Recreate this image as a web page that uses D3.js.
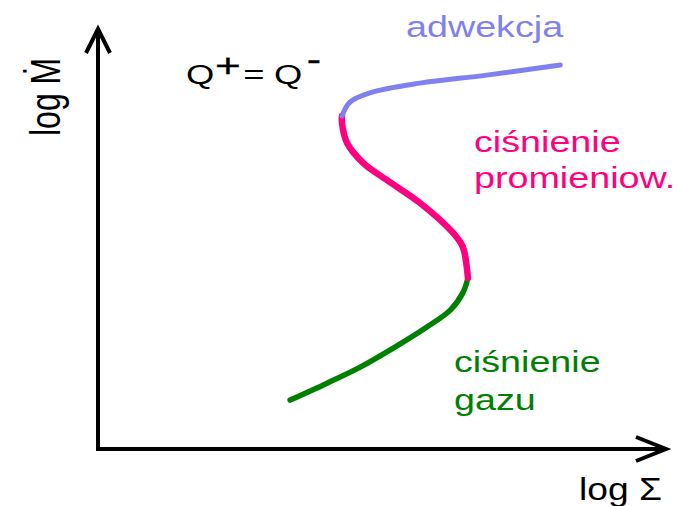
<!DOCTYPE html>
<html>
<head>
<meta charset="utf-8">
<script src="https://cdn.jsdelivr.net/npm/d3@7"></script>
<style>
  html, body { margin: 0; padding: 0; background: #fff; }
  svg { display: block; }
  text { font-family: "Liberation Sans", Arial, sans-serif; }
</style>
</head>
<body>
<script>
// S-curve of thermal equilibrium (Q+ = Q-) in the log Sigma / log Mdot plane,
// split into three branches: gas pressure, radiation pressure, advection.
const gasSigma = [3.37, 4.02, 4.60, 5.18, 5.77, 6.18, 6.40, 6.49];
const gasMdot  = [1.16, 1.56, 1.94, 2.39, 2.89, 3.29, 3.70, 4.05];

const radSigma = [6.49, 6.47, 6.40, 6.23, 5.65, 5.07, 4.65, 4.37, 4.28, 4.28];
const radMdot  = [4.05, 4.31, 4.79, 5.12, 5.83, 6.37, 6.78, 7.25, 7.73, 7.89];

const advSigma = [4.28, 4.42, 4.77, 5.65, 6.82, 8.11];
const advMdot  = [7.89, 8.22, 8.44, 8.67, 8.86, 9.10];

const branchNames = ["ciśnienie gazu", "ciśnienie promieniow.", "adwekcja"];
const branchColors = ["#008000", "#ff0080", "#8080f0"];

const W = 679, H = 506;
const svg = d3.select("body").append("svg").attr("width", W).attr("height", H);

const x = d3.scaleLinear().domain([0, 10]).range([98, 668]);
const y = d3.scaleLinear().domain([0, 10]).range([449, 27]);

// axes drawn as arrows
const axisG = svg.append("g")
  .attr("stroke", "#000").attr("stroke-width", 4).attr("fill", "none")
  .attr("stroke-linecap", "butt").attr("stroke-linejoin", "miter");

axisG.append("line")
  .attr("x1", x(0)).attr("y1", y(0) + 2).attr("x2", x(0)).attr("y2", y(10) + 2);
axisG.append("path")
  .attr("d", `M${x(0) - 12},${y(10) + 26} L${x(0)},${y(10) + 2} L${x(0) + 12},${y(10) + 26}`);

axisG.append("line")
  .attr("x1", x(0) - 2).attr("y1", y(0)).attr("x2", x(10) - 2).attr("y2", y(0));
axisG.append("path")
  .attr("d", `M${x(10) - 32},${y(0) - 12} L${x(10) - 2},${y(0)} L${x(10) - 32},${y(0) + 12}`);

// curve branches
const line = d3.line()
  .x(d => x(d[0])).y(d => y(d[1]))
  .curve(d3.curveCatmullRom.alpha(0.5));

const branches = [
  { pts: d3.zip(gasSigma, gasMdot), width: 5.5 },
  { pts: d3.zip(radSigma, radMdot), width: 6.5 },
  { pts: d3.zip(advSigma, advMdot), width: 5 }
];

svg.append("g").selectAll("path")
  .data(branches)
  .join("path")
  .attr("d", d => line(d.pts))
  .attr("fill", "none")
  .attr("stroke", (d, i) => branchColors[i])
  .attr("stroke-width", d => d.width)
  .attr("stroke-linecap", "round")
  .attr("stroke-linejoin", "round");

// text helper: horizontally widened sans-serif lettering
const SX = 1.3;
function label(str, px, py, size, color, opts = {}) {
  const sx = opts.sx || SX;
  const rot = opts.rotate ? ` rotate(${opts.rotate})` : "";
  const t = svg.append("text")
    .attr("transform", `translate(${px},${py}) scale(${sx},1)${rot}`)
    .attr("font-size", size)
    .attr("fill", color)
    .attr("text-anchor", opts.anchor || "start")
    .text(str);
  if (opts.bold) t.attr("stroke", color).attr("stroke-width", opts.bold);
  return t;
}

// branch labels
label("adwekcja", 406, 37, 29, branchColors[2]);
label("ciśnienie", 474, 152, 29, branchColors[1]);
label("promieniow.", 474, 188, 29, branchColors[1]);
label("ciśnienie", 454, 372, 29, branchColors[0]);
label("gazu", 454, 410, 29, branchColors[0]);

// equilibrium condition
label("Q", 186, 84, 28, "#000");
label("+", 228, 77, 34, "#000", { anchor: "middle", bold: 0.3 });
label("=", 254, 84, 28, "#000", { anchor: "middle" });
label("Q", 274, 84, 28, "#000");
label("-", 314, 70, 32, "#000", { anchor: "middle", bold: 0.6 });

// axis titles
label("log \u1E40", 60, 136, 32, "#000", { rotate: -90 });
label("log \u03A3", 579, 500, 31, "#000", { sx: 1.2 });
</script>
</body>
</html>
